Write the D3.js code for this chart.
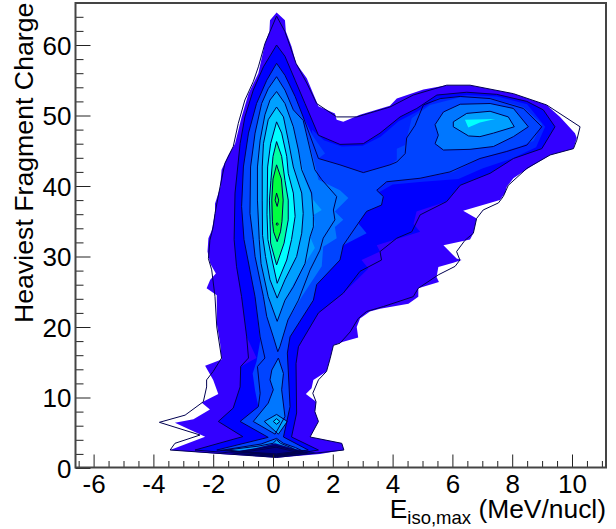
<!DOCTYPE html>
<html><head><meta charset="utf-8">
<script src="https://cdn.jsdelivr.net/npm/d3@7"></script>
<style>html,body{margin:0;padding:0;background:#fff}svg{display:block}text{font-family:"Liberation Sans",Arial,sans-serif;fill:#000}</style>
</head><body><div id="chart"></div>
<script>
// Reference ticks
const xMajor=[-6,-4,-2,0,2,4,6,8,10];
const xMinor=[-6.5,-5.5,-5,-4.5,-3.5,-3,-2.5,-1.5,-1,-0.5,0.5,1,1.5,2.5,3,3.5,4.5,5,5.5,6.5,7,7.5,8.5,9,9.5,10.5,11];
const yMajor=[0,10,20,30,40,50,60];
const yMinor=[2,4,6,8,12,14,16,18,22,24,26,28,32,34,36,38,42,44,46,48,52,54,56,58,62,64];
const xTitleMain="E", xTitleSub="iso,max", xTitleUnit=" (MeV/nucl)", yTitle="Heaviest Fragment Charge";
// Band colours, outermost to innermost
const bandColors=["#3300ff","#0000ff","#0044ff","#0077ff","#00a0ff","#00ccff","#00ffff","#00ffa0","#00ff40"];
const bridgeColor="#0024ff";
// Filled band outlines, [E, Z]
const fillOuter=[[.12,64.6],[.40,63.5],[.43,61.9],[.62,59.8],[.77,57.4],[1.13,55.3],[1.52,51.3],[2.07,50.3],[2.13,49.4],[2.35,49.1],[2.91,50.1],[3.91,51.4],[4.14,52.4],[5.03,53.7],[5.81,54.3],[6.59,54.3],[8.04,53.1],[9.15,51.5],[9.6,49.8],[10.1,47.5],[10.16,46.8],[10.05,45.3],[9.27,44.4],[8.6,42.7],[8.04,41.1],[7.82,39.9],[7.76,39.0],[7.59,38.0],[6.36,36.5],[6.81,35.4],[6.70,33.3],[6.59,32.4],[5.70,31.6],[6.14,29.7],[6.31,29.5],[6.03,29.1],[5.53,28.5],[5.47,27.1],[5.55,26.4],[4.86,25.5],[4.86,24.3],[4.53,23.3],[3.58,22.6],[3.24,22.2],[2.91,21.2],[2.80,20.0],[2.85,18.5],[2.35,17.9],[2.02,17.4],[1.91,15.5],[1.79,13.7],[1.35,12.5],[1.29,11.3],[1.10,10.5],[1.44,9.4],[1.40,8.0],[1.52,6.6],[1.24,4.4],[2.30,3.5],[2.37,2.55],[1.57,2.0],[.12,1.45],[-1.77,2.0],[-3.44,2.55],[-2.27,4.44],[-3.28,6.43],[-2.66,6.9],[-2.11,8.3],[-2.39,9.3],[-1.83,10.5],[-2.0,12.5],[-2.27,14.5],[-1.72,15.4],[-1.77,17.7],[-1.88,20.5],[-1.88,24.5],[-2.22,25.5],[-2.10,26.7],[-1.91,27.6],[-2.10,29.0],[-2.19,30.7],[-2.16,32.6],[-2.05,33.7],[-1.94,36.1],[-1.94,37.5],[-1.77,39.7],[-1.72,42.3],[-1.49,44.4],[-1.27,46.0],[-1.05,49.8],[-.82,53.1],[-.49,56.0],[-.27,60.2],[-.12,61.9],[-.10,63.5]];
const fillSecond=[[.12,60.0],[.40,58.4],[.74,55.0],[1.07,51.7],[1.52,47.2],[2.24,45.9],[3.02,46.0],[3.58,47.5],[4.25,49.8],[4.81,51.0],[5.48,52.9],[6.48,53.3],[7.48,53.0],[8.49,52.0],[9.04,50.8],[9.43,48.4],[8.99,45.3],[8.04,43.9],[7.26,41.8],[6.26,40.1],[5.81,37.8],[4.80,36.4],[4.70,34.6],[4.92,33.5],[3.47,31.6],[3.58,30.7],[2.96,29.5],[3.19,28.3],[2.35,24.8],[1.52,22.0],[.85,17.2],[.77,14.8],[.79,7.8],[.62,4.4],[1.52,2.55],[.12,1.6],[-2.61,2.55],[-1.01,4.45],[-1.83,6.6],[-1.33,8.5],[-1.10,11.5],[-1.08,14.4],[-.55,15.6],[-.88,18.6],[-1.05,24.3],[-1.22,28.6],[-1.30,32.4],[-1.27,39.0],[-1.10,46.0],[-.94,49.8],[-.66,53.6],[-.32,56.9]];
const fillBridge=[[1.3,48.0],[1.7,46.5],[2.3,45.6],[3.0,45.7],[3.6,47.0],[4.2,49.2],[4.8,50.5],[5.5,52.4],[6.5,52.9],[7.5,52.7],[8.5,51.6],[9.1,48.4],[8.8,45.5],[8.0,43.9],[7.0,42.5],[6.2,41.0],[5.0,40.6],[4.0,40.2],[3.5,39.0],[1.5,40.0]];
const fillThird=[[.12,57.4],[.40,55.7],[.74,52.7],[1.01,49.8],[1.35,47.0],[1.74,44.6],[1.52,43.9],[2.24,43.0],[3.02,41.9],[3.91,43.0],[4.14,43.7],[4.14,45.3],[4.42,45.8],[4.64,49.6],[5.25,51.5],[6.26,52.6],[7.26,52.5],[8.37,51.2],[9.0,48.8],[8.71,46.4],[8.26,45.6],[6.92,43.9],[6.03,42.0],[4.92,41.1],[3.80,40.6],[3.47,39.4],[3.69,38.5],[3.63,37.3],[3.13,36.4],[2.85,34.7],[3.13,33.3],[2.35,31.6],[2.24,29.5],[1.46,26.0],[1.35,23.8],[.57,18.6],[.48,16.3],[.51,13.9],[.57,8.7],[.35,4.4],[1.18,2.55],[.12,2.0],[-1.88,2.55],[-.16,4.35],[-1.10,6.6],[-.49,8.7],[-.6,11.0],[-.68,13.4],[-.55,15.1],[-.43,18.0],[-.60,24.3],[-.97,32.4],[-1.05,37.1],[-.99,42.7],[-.82,47.5],[-.55,51.7],[-.21,55.0]];
const fillFourth=[[.12,55.5],[.40,53.6],[.68,50.8],[1.01,49.3],[1.40,43.0],[1.52,40.9],[2.24,39.4],[2.52,38.3],[2.07,36.4],[2.35,35.2],[2.07,34.2],[2.13,32.6],[1.68,31.4],[1.63,28.6],[.96,24.3],[.5,21.0],[.23,17.2],[.16,16.5],[.01,18.6],[-.21,21.5],[-.32,24.3],[-.6,30.0],[-.66,32.4],[-.77,36.1],[-.75,42.7],[-.60,47.5],[-.38,51.7],[-.16,53.8]];
const fillFifth=[[.12,53.4],[.40,51.7],[.68,48.4],[.85,45.1],[1.07,40.9],[1.35,38.0],[1.63,36.6],[1.35,35.9],[1.40,34.5],[1.24,32.8],[1.40,31.2],[1.01,28.6],[.57,25.2],[.40,23.8],[.14,20.8],[-.16,24.3],[-.4,29.0],[-.46,32.4],[-.52,38.0],[-.52,42.7],[-.43,46.5],[-.27,50.1],[-.10,52.2]];
const lobeSpot=[[6.42,49.4],[7.43,49.5],[6.92,49.0],[6.53,48.3]];
// Contour lines, [E, Z]
const lineA=[[.12,64.1],[.40,61.9],[.77,57.4],[1.13,54.6],[1.46,51.7],[2.13,49.8],[2.80,49.8],[3.91,51.2],[4.69,52.9],[5.81,54.3],[6.59,54.3],[8.04,53.1],[9.15,51.5],[10.27,48.4],[10.16,46.5],[10.05,45.3],[9.27,44.4],[8.49,42.5],[7.87,40.1],[7.70,38.5],[7.54,37.6],[7.03,36.6],[6.81,35.4],[6.70,33.3],[6.42,32.3],[6.14,30.7],[6.25,29.5],[6.09,28.6],[5.53,27.4],[4.86,25.5],[4.69,24.3],[3.69,22.9],[3.13,22.2],[2.85,21.2],[2.58,19.3],[2.24,17.7],[2.02,17.4],[1.91,15.5],[1.79,13.7],[1.52,12.5],[1.33,10.6],[1.44,9.4],[1.40,8.0],[1.52,6.6],[1.24,4.4],[2.30,3.5],[2.37,2.55],[.12,1.5],[-3.44,2.55],[-3.28,3.5],[-2.44,4.68],[-3.80,6.48],[-2.94,7.5],[-2.33,9.4],[-2.22,11.5],[-2.22,12.5],[-2.0,13.7],[-1.72,15.6],[-1.88,20.0],[-1.94,24.3],[-2.05,28.1],[-2.16,29.7],[-2.11,32.3],[-2.0,34.2],[-1.94,36.1],[-1.77,39.9],[-1.61,43.2],[-1.33,45.6],[-1.16,48.9],[-.94,52.2],[-.66,54.8],[-.49,56.9],[-.27,60.2],[-.10,61.9]];
const lineB=[[.12,60.0],[.40,58.4],[.74,55.0],[1.07,51.7],[1.52,47.2],[2.24,45.9],[3.02,46.0],[3.58,47.5],[4.25,49.8],[4.81,51.0],[5.48,52.9],[6.48,53.3],[7.48,53.0],[8.49,52.0],[9.04,50.8],[9.43,48.4],[8.99,45.3],[8.04,43.9],[7.26,41.8],[6.26,40.1],[5.81,37.8],[4.92,35.9],[4.64,33.5],[4.14,32.6],[3.58,30.7],[3.63,29.5],[2.91,27.9],[2.35,24.8],[1.52,22.0],[.85,17.2],[.77,14.8],[.79,7.8],[.62,4.4],[1.52,2.55],[.12,1.6],[-2.61,2.55],[-1.01,4.45],[-1.83,6.6],[-1.33,8.5],[-1.10,11.5],[-1.08,14.4],[-.82,15.6],[-.88,18.6],[-1.05,24.3],[-1.22,28.6],[-1.30,32.4],[-1.27,39.0],[-1.10,46.0],[-.94,49.8],[-.66,53.6],[-.32,56.9]];
const lineC=[[.12,57.4],[.40,55.7],[.74,52.7],[1.01,49.8],[1.52,43.9],[2.24,43.0],[3.02,41.9],[3.91,43.0],[4.14,43.4],[4.42,44.6],[4.47,46.8],[4.75,48.6],[5.03,51.5],[5.59,52.4],[6.26,52.7],[7.26,52.4],[8.37,51.0],[8.99,48.4],[8.49,45.8],[7.82,44.9],[6.92,43.9],[5.92,42.0],[4.92,41.1],[3.80,40.6],[3.47,39.4],[3.69,38.5],[3.63,37.3],[3.13,36.4],[2.85,34.7],[2.35,31.6],[2.24,29.5],[1.46,26.0],[1.35,23.8],[.57,18.6],[.48,16.3],[.51,13.9],[.57,8.7],[.35,4.4],[1.18,2.55],[.12,2.0],[-1.88,2.55],[-.16,4.35],[-1.10,6.6],[-.49,8.7],[-.43,10.6],[-.52,14.4],[-.27,15.6],[-.43,18.6],[-.60,24.3],[-.97,32.4],[-1.05,37.1],[-.99,42.7],[-.82,47.5],[-.55,51.7],[-.21,55.0]];
const lineD=[[.12,55.5],[.40,53.6],[.68,50.8],[1.01,49.3],[1.40,42.3],[1.63,40.9],[2.13,38.5],[2.02,36.6],[2.07,35.2],[1.68,32.6],[1.57,30.9],[1.24,28.1],[.85,23.8],[.5,21.0],[.23,17.2],[.16,16.5],[.01,18.6],[-.21,21.5],[-.32,24.3],[-.6,30.0],[-.66,32.4],[-.77,36.1],[-.75,42.7],[-.60,47.5],[-.38,51.7],[-.16,53.8]];
const lineDLower=[[.18,15.6],[-.04,13.9],[-.10,12.5],[.01,11.1],[-.16,9.2],[-.66,6.6],[.07,4.8],[.40,7.3],[.29,11.1],[.35,13.4]];
const lineDLobe=[[5.42,48.7],[5.70,50.5],[6.26,51.6],[7.26,51.7],[8.04,51.0],[8.54,48.4],[8.04,47.0],[7.37,45.6],[6.59,45.2],[5.70,45.1],[5.42,46.0],[5.53,47.2]];
const lineE=[[.12,53.4],[.40,51.7],[.68,48.4],[.85,45.1],[.96,42.3],[1.29,39.0],[1.35,35.7],[1.35,34.2],[1.24,32.8],[1.07,29.0],[.68,25.7],[.40,23.8],[.14,20.8],[-.16,24.3],[-.4,29.0],[-.46,32.4],[-.52,38.0],[-.52,42.7],[-.43,46.5],[-.27,50.1],[-.10,52.2]];
const lineELower=[[-.29,6.6],[.12,7.6],[.48,6.6],[.18,4.8]];
const lineELobe=[[6.03,49.1],[6.48,50.3],[7.26,50.6],[7.87,49.8],[8.07,48.4],[7.37,47.5],[6.92,47.0],[6.54,47.1],[6.03,48.4]];
const lineF=[[.12,51.2],[.35,49.8],[.51,46.5],[.68,42.7],[.96,39.0],[1.01,36.1],[.96,33.3],[.79,30.0],[.40,26.7],[.14,24.1],[-.10,26.7],[-.25,30.0],[-.35,33.0],[-.36,38.0],[-.36,42.7],[-.32,46.0],[-.16,49.4]];
const lineFLower=[[.01,6.6],[.12,7.0],[.23,6.6],[.12,6.2]];
const lineG=[[.12,49.1],[.29,47.5],[.46,44.2],[.51,41.8],[.68,39.0],[.74,35.7],[.62,32.4],[.46,29.5],[.14,26.2],[-.03,29.5],[-.17,32.4],[-.20,36.0],[-.19,39.0],[-.18,42.7],[-.08,46.0]];
const lineH=[[.12,46.3],[.29,44.2],[.40,40.8],[.51,38.0],[.51,35.2],[.37,31.9],[.12,28.8],[-.08,31.9],[-.10,35.2],[-.12,38.0],[-.07,40.8],[-.0,44.2]];
const lineI=[[.12,43.0],[.28,41.0],[.34,38.0],[.30,35.0],[.25,33.5],[.14,32.1],[.02,33.5],[-.02,35.0],[-.04,38.0],[-.0,41.0]];
const lineJ=[[.12,39.0],[.19,38.0],[.14,37.1],[.07,38.0]];
const lineK=[[.14,34.8],[.18,34.6],[.14,34.4],[.10,34.6]];
// Base mound of the ridge at low charge
const moundD=[[-1.75,2.5],[-.4,3.4],[.12,4.2],[.35,3.5],[.75,2.9],[1.0,2.4],[.12,1.75]];
const moundE=[[-1.55,2.55],[-.5,3.1],[0,3.5],[.12,4.0],[.25,3.5],[.6,2.9],[.85,2.35],[.12,1.8]];
const moundDark=[[-.6,2.8],[.07,3.5],[.74,2.7],[1.46,2.2],[.74,1.75],[0,1.56],[-.94,1.85],[-1.49,2.2]];
const moundLines=[[[-1.1,2.35],[-.5,2.75],[.1,3.15],[.7,2.55],[1.15,2.15],[.1,1.75]],[[-.95,2.3],[-.4,2.6],[.1,2.95],[.6,2.45],[.95,2.15],[.1,1.85]]];

const width=616,height=529;
const x=d3.scaleLinear().domain([0,10]).range([273,572]);
const y=d3.scaleLinear().domain([0,60]).range([468,45]);
const svg=d3.select("#chart").append("svg").attr("width",width).attr("height",height);
const path=d3.line().x(d=>x(d[0])).y(d=>y(d[1])).curve(d3.curveLinearClosed);

const fills=[[fillOuter,bandColors[0]],[fillSecond,bandColors[1]],[fillBridge,bridgeColor],[fillThird,bandColors[2]],[fillFourth,bandColors[3]],[lineDLower,bandColors[3]],[lineDLobe,bandColors[3]],[moundD,bandColors[3]],[fillFifth,bandColors[4]],[lineELower,bandColors[4]],[lineELobe,bandColors[4]],[moundE,bandColors[4]],[lineF,bandColors[5]],[lineFLower,bandColors[5]],[lobeSpot,bandColors[6]],[lineG,bandColors[6]],[lineH,bandColors[7]],[lineI,bandColors[8]],[lineJ,bandColors[8]]];
svg.append("g").selectAll("path").data(fills).join("path").attr("d",d=>path(d[0])).attr("fill",d=>d[1]);
svg.append("path").attr("d",path(moundDark)).attr("fill","#00008c");
const contourLines=[lineA,lineB,lineC,lineD,lineDLower,lineDLobe,lineE,lineELower,lineELobe,lineF,lineFLower,lineG,lineH,lineI,lineJ,lineK,moundD,moundE,...moundLines];
svg.append("g").selectAll("path").data(contourLines).join("path").attr("d",d=>path(d)).attr("fill","none").attr("stroke","#000050").attr("stroke-width",1).attr("stroke-linejoin","round");

// Frame and axes
const fL=75.5,fR=606,fT=3,fB=467.5;
const fmt=d=>String(d);
const gx=svg.append("g").attr("transform",`translate(0,${fB})`);
gx.call(d3.axisBottom(x).tickValues(xMajor).tickSizeInner(-13).tickSizeOuter(0).tickPadding(0).tickFormat(fmt));
const gxm=svg.append("g").attr("transform",`translate(0,${fB})`);
gxm.call(d3.axisBottom(x).tickValues(xMinor).tickSizeInner(-6.5).tickSizeOuter(0).tickFormat(""));
const gy=svg.append("g").attr("transform",`translate(${fL},0)`);
gy.call(d3.axisLeft(y).tickValues(yMajor).tickSizeInner(-15).tickSizeOuter(0).tickPadding(0).tickFormat(fmt));
const gym=svg.append("g").attr("transform",`translate(${fL},0)`);
gym.call(d3.axisLeft(y).tickValues(yMinor).tickSizeInner(-8).tickSizeOuter(0).tickFormat(""));
svg.selectAll(".domain").remove();
svg.selectAll(".tick line").attr("stroke","#222").attr("stroke-width",1);
gx.selectAll("text").attr("font-size",26).attr("y",25).attr("dy",0).attr("fill","#000");
gy.selectAll("text").attr("font-size",26).attr("x",-4).attr("dy","0.36em").attr("fill","#000");
svg.append("rect").attr("x",fL).attr("y",fT).attr("width",fR-fL).attr("height",fB-fT).attr("fill","none").attr("stroke","#444").attr("stroke-width",2);

const t=svg.append("text").attr("x",606).attr("y",518).attr("text-anchor","end").attr("font-size",26.4);
t.append("tspan").text(xTitleMain);
t.append("tspan").attr("font-size",18.5).attr("dy",6).text(xTitleSub);
t.append("tspan").attr("dy",-6).text(xTitleUnit);
svg.append("text").attr("transform","translate(33,323) rotate(-90)").attr("font-size",26.7).text(yTitle);
</script></body></html>
